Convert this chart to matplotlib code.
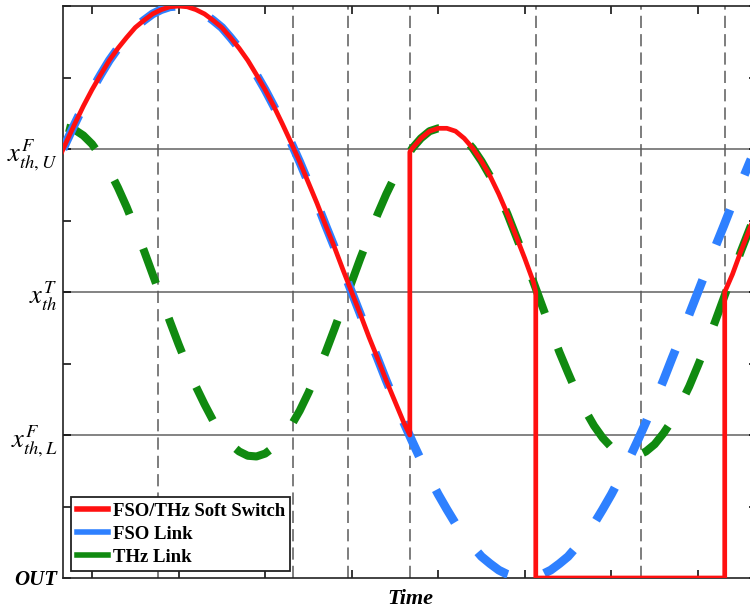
import numpy as np
import matplotlib
matplotlib.use('agg')
import matplotlib.pyplot as plt
from matplotlib.lines import Line2D

plt.rcParams['font.family'] = ['Liberation Serif', 'DejaVu Serif']
plt.rcParams['mathtext.fontset'] = 'stix'

# time samples (0.6 .. 8.8, step 0.1) and link levels
t = np.round(np.arange(6, 89) * 0.1, 1)
fso = [5.82, 6.09, 6.35, 6.60, 6.83, 7.04, 7.24, 7.41, 7.56, 7.70, 7.80, 7.89, 7.95, 7.99, 8.00,
       7.99, 7.95, 7.89, 7.80, 7.70, 7.56, 7.41, 7.24, 7.04, 6.83, 6.60, 6.35, 6.09, 5.82, 5.53,
       5.24, 4.93, 4.63, 4.31, 4.00, 3.69, 3.37, 3.07, 2.76, 2.47, 2.18, 1.91, 1.65, 1.40, 1.17,
       0.96, 0.76, 0.59, 0.44, 0.30, 0.20, 0.11, 0.05, 0.01, 0.00,
       0.01, 0.05, 0.11, 0.20, 0.30, 0.44, 0.59, 0.76, 0.96, 1.17, 1.40, 1.65, 1.91, 2.18, 2.47,
       2.76, 3.07, 3.37, 3.69, 4.00, 4.31, 4.63, 4.93, 5.24, 5.53, 5.82, 6.09, 6.35]
thz = [6.28, 6.30, 6.27, 6.19, 6.07, 5.90, 5.70, 5.46, 5.19, 4.89, 4.58, 4.25, 3.92, 3.59, 3.27,
       2.97, 2.68, 2.43, 2.20, 2.02, 1.87, 1.77, 1.71, 1.70, 1.74, 1.83, 1.96, 2.13, 2.34, 2.59,
       2.87, 3.16, 3.48, 3.81, 4.14, 4.47, 4.78, 5.09, 5.37, 5.62, 5.83, 6.01, 6.15, 6.25, 6.29,
       6.29, 6.25, 6.15, 6.01, 5.83, 5.62, 5.37, 5.09, 4.78, 4.47, 4.14, 3.81, 3.48, 3.16, 2.87,
       2.59, 2.34, 2.13, 1.96, 1.83, 1.74, 1.70, 1.71, 1.77, 1.87, 2.02, 2.20, 2.43, 2.68, 2.97,
       3.27, 3.59, 3.92, 4.25, 4.58, 4.89, 5.19, 5.46]

# switching instants (dashed markers) and soft switch events
marks = [1.762, 3.321, 3.956, 4.672, 6.127, 7.34, 8.31]
sw_t = [4.672, 6.127, 8.31]
sw_from = [2.00, 4.00, 0.00]
sw_to = [5.96, 0.00, 4.00]

yticks = [0, 1, 2, 3, 4, 5, 6, 7, 8]
ylabels = ['OUT', '', r'$x_{th,L}^{F}$', '', r'$x_{th}^{T}$', '', r'$x_{th,U}^{F}$', '', '']
ygrid = [2, 4, 6]

fso = np.array(fso)
thz = np.array(thz)

# soft switch: FSO -> THz -> outage -> THz
m1 = t < sw_t[0]
m2 = (t > sw_t[0]) & (t < sw_t[1])
m3 = t > sw_t[2]
red_t = np.concatenate([t[m1], [sw_t[0], sw_t[0]], t[m2], [sw_t[1], sw_t[1], sw_t[2], sw_t[2]], t[m3]])
red_v = np.concatenate([fso[m1], [sw_from[0], sw_to[0]], thz[m2],
                        [sw_from[1], sw_to[1], sw_from[2], sw_to[2]], thz[m3]])

fig = plt.figure(figsize=(7.5, 6.13), dpi=100)
ax = fig.add_axes([0.084, 0.0571, 0.925, 0.933])

for y in ygrid:
    ax.axhline(y, color='#6e6e6e', lw=1.2, zorder=1)
for x in marks:
    ax.axvline(x, color='#5a5a5a', lw=1.1, ls=(0, (8, 4)), zorder=1)

ax.plot(t, thz, color='#108a10', lw=5.8, ls=(8.1, (4.6, 4.6)), zorder=2)
ax.plot(t, fso, color='#2e80ff', lw=6.3, ls=(7.0, (4.3, 4.3)), zorder=3)
ax.plot(red_t, red_v, color='#ff1010', lw=3.4, zorder=4)

ax.set_xlim(0.665, 8.68)
ax.set_ylim(0, 8)
ax.set_xticks(range(1, 9))
ax.set_xticklabels([])
ax.set_yticks(yticks)
ax.set_yticklabels(ylabels, fontsize=19)
out_lbl = ax.get_yticklabels()[0]
out_lbl.set_fontsize(15)
out_lbl.set_fontweight('bold')
out_lbl.set_fontstyle('italic')
ax.tick_params(direction='in', length=6, width=1.1, top=True, right=True, pad=4)
for s in ax.spines.values():
    s.set_linewidth(1.2)
    s.set_color('#222222')

ax.set_xlabel('Time', fontsize=16, fontweight='bold', fontstyle='italic', labelpad=4)

handles = [Line2D([], [], color='#ff1010', lw=4),
           Line2D([], [], color='#2e80ff', lw=4),
           Line2D([], [], color='#108a10', lw=4)]
leg = ax.legend(handles, ['FSO/THz Soft Switch', 'FSO Link', 'THz Link'],
                loc='lower left', bbox_to_anchor=(0.012, 0.012), borderaxespad=0,
                fancybox=False, framealpha=1, edgecolor='#222222',
                prop={'weight': 'bold', 'size': 13.5}, handlelength=1.65,
                handletextpad=0.25, labelspacing=0.3, borderpad=0.3)
leg.get_frame().set_linewidth(1.3)

plt.savefig('out.png', dpi=100)
